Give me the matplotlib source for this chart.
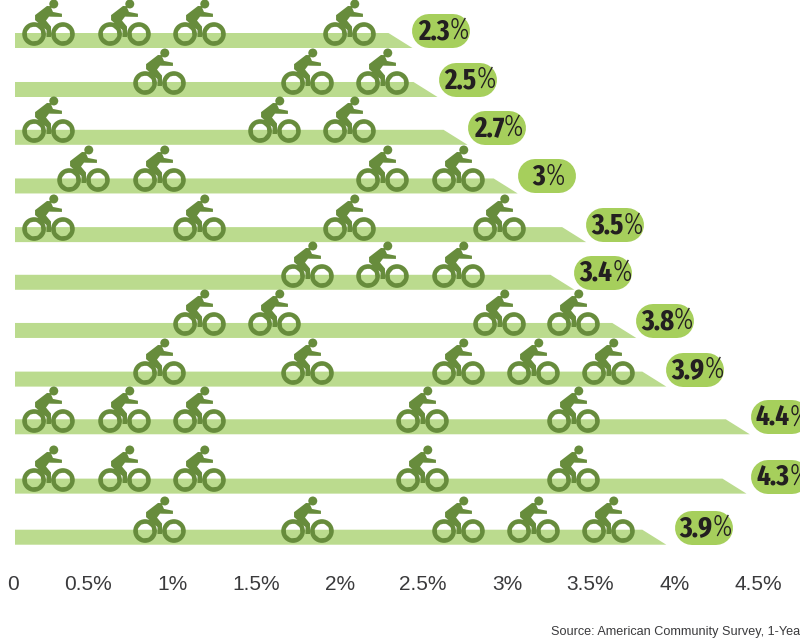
import matplotlib
matplotlib.use("Agg")
import matplotlib.pyplot as plt
from matplotlib.path import Path
from matplotlib.offsetbox import TextArea, HPacker, AnnotationBbox

# --- data ---
labels = ["2.3", "2.5", "2.7", "3", "3.5", "3.4", "3.8", "3.9", "4.4", "4.3", "3.9"]
bar_tips = [2.38, 2.53, 2.71, 3.01, 3.42, 3.35, 3.72, 3.90, 4.40, 4.38, 3.90]
pill_lefts = [2.38, 2.54, 2.71, 3.01, 3.42, 3.35, 3.72, 3.90, 4.41, 4.41, 3.95]
row_pos = [0, 1.007, 1.99, 2.99, 3.99, 4.97, 5.96, 6.96, 7.94, 9.16, 10.21]
cyclists = [
    [0.20, 0.65, 1.10, 2.00],
    [0.86, 1.75, 2.20],
    [0.20, 1.55, 2.00],
    [0.41, 0.86, 2.20, 2.65],
    [0.20, 1.10, 2.00, 2.90],
    [1.75, 2.20, 2.65],
    [1.10, 1.55, 2.90, 3.34],
    [0.86, 1.75, 2.65, 3.10, 3.55],
    [0.20, 0.65, 1.10, 2.44, 3.34],
    [0.20, 0.65, 1.10, 2.44, 3.34],
    [0.86, 1.75, 2.65, 3.10, 3.55],
]
tick_pos = [-0.012, 0.437, 0.946, 1.443, 1.946, 2.443, 2.946, 3.443, 3.952, 4.449]
tick_labels = ["0", "0.5%", "1%", "1.5%", "2%", "2.5%", "3%", "3.5%", "4%", "4.5%"]
source = "Source: American Community Survey, 1-Yea"

# --- style ---
BAR = "#BBDB8E"
ICON = "#678C3C"
PILL = "#A6CF5C"
INK = "#231F20"
TICK = "#3A3A3C"
PX_X = 167.0            # pixels per 1 %
PX_Y = 48.65            # pixels per row
PT = 72 / 100           # points per pixel
NARROW = ["Fira Sans Extra Condensed", "Barlow Condensed", "Liberation Sans"]

fig = plt.figure(figsize=(8, 6.4), dpi=100, facecolor="white")
ax = fig.add_axes([0, 80 / 640, 1, 560 / 640])
ax.set_xlim(-15 / PX_X, 785 / PX_X)
ax.set_ylim((560 - 40.5) / PX_Y, -40.5 / PX_Y)
for s in ax.spines.values():
    s.set_visible(False)
ax.yaxis.set_visible(False)
ax.set_xticks(tick_pos, tick_labels, family="Liberation Sans", fontsize=15, color=TICK)
ax.tick_params(axis="x", length=0, pad=11)


def ring(cx, cy, r_out, r_in):
    outer = Path.circle((cx, cy), r_out)
    inner = Path.circle((cx, cy), r_in)
    inner = Path(inner.vertices[::-1], inner.codes)
    return Path.make_compound_path(outer, inner)


def cyclist_marker():
    # drawn in pixels, origin on the centre of the bar
    body = [(35, 15), (47, 5.8), (50.5, 6), (53, 11.8), (62, 13.6), (62, 16.8), (52, 16.6),
            (49, 16.5), (46, 20.5), (51, 26.5), (51, 37), (46.5, 37),
            (46.5, 30), (35, 20)]
    body_path = Path(body + [body[0]], closed=True)
    parts = [ring(34, 34, 11.9, 7.2), ring(63, 34, 11.9, 7.2),
             Path.circle((53.8, 3.8), 4.5), body_path]
    p = Path.make_compound_path(*parts)
    verts = (p.vertices - [48.5, 40.5]) * [1, -1]
    return Path(verts, p.codes)


marker = cyclist_marker()
half_h = 7.5 / PX_Y
slant = 24 / PX_X
pill_h_px = 34
pill_w_px = 58

for i, (tip, y) in enumerate(zip(bar_tips, row_pos)):
    ax.fill([0, tip - slant, tip, 0], [y - half_h, y - half_h, y + half_h, y + half_h],
            color=BAR, lw=0, zorder=1)
    ax.plot(cyclists[i], [y] * len(cyclists[i]), ls="none", marker=marker, ms=82 * PT,
            mfc=ICON, mec="none", mew=0, zorder=2, clip_on=False)
    # pill
    py = y + (7.5 - pill_h_px / 2) / PX_Y
    left = pill_lefts[i]
    x0 = left + (pill_h_px / 2) / PX_X
    x1 = left + (pill_w_px - pill_h_px / 2) / PX_X
    ax.plot([x0, x1], [py, py], color=PILL, lw=pill_h_px * PT, solid_capstyle="round", zorder=3)
    num = TextArea(labels[i], textprops=dict(family=NARROW, weight="bold", fontsize=21, color=INK))
    pct = TextArea("%", textprops=dict(family=NARROW, weight=300, fontsize=21, color=INK))
    box = HPacker(children=[num, pct], align="baseline", pad=0, sep=0)
    ab = AnnotationBbox(box, ((x0 + x1) / 2 + 2 / PX_X, py), frameon=False, box_alignment=(0.5, 0.5),
                        pad=0, zorder=4, annotation_clip=False)
    ax.add_artist(ab)

fig.text(551 / 800, 1 - 632 / 640, source, family="Liberation Sans", fontsize=9.1,
         color=TICK, ha="left", va="center")

fig.savefig("out.png", dpi=100)
